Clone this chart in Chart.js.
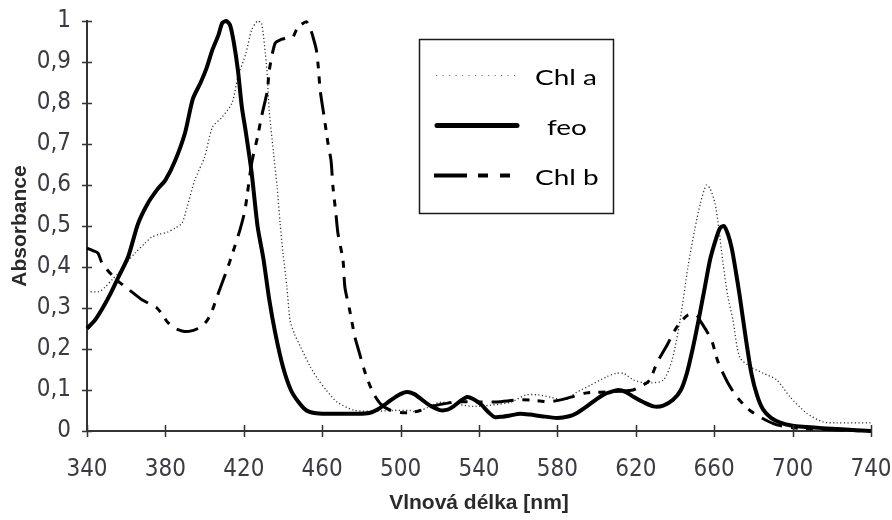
<!DOCTYPE html>
<html>
<head>
<meta charset="utf-8">
<script src="https://cdn.jsdelivr.net/npm/chart.js@4/dist/chart.umd.min.js"></script>
<style>
  html, body { margin: 0; padding: 0; background: #ffffff; }
  #wrap { width: 892px; height: 520px; }
</style>
</head>
<body>
<div id="wrap"><canvas id="spectra" width="892" height="520"></canvas></div>
<script>
// Absorption spectra of chlorophyll a, pheophytin (feo) and chlorophyll b
const xTicks = [340, 380, 420, 460, 500, 540, 580, 620, 660, 700, 740];
const yTickLabels = ['0', '0,1', '0,2', '0,3', '0,4', '0,5', '0,6', '0,7', '0,8', '0,9', '1'];

const seriesNames = ['Chl a', 'feo', 'Chl b'];

const nmChlA = [340, 346, 349, 353, 356, 360, 364.5, 369.6, 373, 377, 381, 385, 388.5, 391, 395, 400, 404, 409, 414, 417, 421, 424, 427, 429, 431, 432, 433, 435, 437, 438.5, 440, 442, 443.6, 446, 449, 454, 458, 462, 467.5, 476, 486, 496, 505, 508, 514, 520, 528, 537, 546, 556, 564, 570, 577, 583, 590, 597, 605, 610, 614, 619, 626, 634, 638.5, 642.6, 646.6, 650, 653, 656, 658, 660.4, 662, 664.5, 667, 669.6, 673, 679, 685, 692, 698.7, 707, 715.5, 722, 740];
const absChlA = [0.34, 0.34, 0.35, 0.37, 0.385, 0.41, 0.434, 0.458, 0.473, 0.48, 0.485, 0.495, 0.507, 0.545, 0.612, 0.668, 0.741, 0.766, 0.80, 0.864, 0.92, 0.978, 1.0, 0.995, 0.92, 0.864, 0.78, 0.685, 0.595, 0.507, 0.434, 0.351, 0.27, 0.235, 0.205, 0.156, 0.125, 0.1, 0.071, 0.051, 0.048, 0.05, 0.05, 0.046, 0.058, 0.07, 0.066, 0.06, 0.063, 0.07, 0.088, 0.088, 0.082, 0.076, 0.095, 0.112, 0.132, 0.141, 0.14, 0.124, 0.117, 0.124, 0.173, 0.27, 0.40, 0.49, 0.556, 0.60, 0.59, 0.556, 0.507, 0.41, 0.327, 0.27, 0.18, 0.155, 0.141, 0.124, 0.083, 0.044, 0.022, 0.02, 0.02];

const nmFeo = [340, 344, 348, 352, 356, 361, 366, 371, 376, 380, 385, 390, 394, 398, 401, 404, 407, 409, 411, 413, 415, 417, 419, 421, 424, 427, 430, 433, 436, 440, 444, 448, 452, 456, 462, 470, 478, 484, 488, 493, 498, 503, 507, 511, 515, 520, 524, 527, 531, 534, 537, 541, 545, 548, 552, 556, 561, 566, 572, 580, 586, 590, 595, 600, 604, 607, 611, 615, 619, 624, 629, 634, 639, 643, 646, 649, 652, 655, 658, 661, 663, 665, 667, 669, 671, 673, 676, 679, 682, 685, 689, 694, 700, 707, 715, 725, 740];
const absFeo = [0.25, 0.27, 0.30, 0.335, 0.375, 0.425, 0.505, 0.555, 0.59, 0.612, 0.66, 0.727, 0.81, 0.85, 0.885, 0.93, 0.965, 0.995, 1.0, 0.99, 0.945, 0.88, 0.79, 0.73, 0.63, 0.50, 0.42, 0.32, 0.24, 0.156, 0.10, 0.07, 0.05, 0.044, 0.042, 0.042, 0.042, 0.044, 0.052, 0.068, 0.085, 0.095, 0.09, 0.076, 0.062, 0.051, 0.052, 0.06, 0.075, 0.083, 0.078, 0.065, 0.045, 0.034, 0.035, 0.038, 0.042, 0.04, 0.036, 0.032, 0.036, 0.044, 0.06, 0.078, 0.09, 0.095, 0.1, 0.095, 0.083, 0.07, 0.06, 0.062, 0.076, 0.1, 0.14, 0.2, 0.27, 0.345, 0.42, 0.47, 0.495, 0.50, 0.48, 0.445, 0.39, 0.33, 0.23, 0.14, 0.085, 0.052, 0.032, 0.02, 0.013, 0.01, 0.007, 0.004, 0.0];

const nmChlB = [340, 343, 345.6, 347.6, 350, 352.8, 356, 360, 364, 368, 372, 375.7, 379, 381, 385, 388.5, 392, 396.6, 400, 402, 404, 407, 411.4, 414.5, 418, 420.6, 424, 427, 429, 432, 433, 436, 439, 442, 445, 447, 449, 452, 454, 455, 457, 458, 459, 461, 463, 464.5, 465.5, 467, 468, 470.6, 471.6, 474, 476.7, 479, 482, 486, 490, 495, 500, 505, 510, 516, 524, 530, 540, 549, 561, 570, 576, 585, 595, 605, 612, 618.6, 623, 627, 631, 636, 641, 646.6, 651, 652.7, 656, 658.8, 662, 667, 671.6, 678, 685, 692, 700, 715, 740];
const absChlB = [0.446, 0.44, 0.434, 0.41, 0.395, 0.38, 0.365, 0.35, 0.335, 0.32, 0.31, 0.30, 0.28, 0.266, 0.25, 0.244, 0.243, 0.25, 0.262, 0.275, 0.295, 0.336, 0.393, 0.437, 0.49, 0.539, 0.653, 0.717, 0.766, 0.83, 0.88, 0.946, 0.955, 0.958, 0.961, 0.98, 0.99, 0.998, 0.98, 0.966, 0.93, 0.888, 0.83, 0.766, 0.70, 0.66, 0.595, 0.53, 0.483, 0.417, 0.35, 0.295, 0.229, 0.19, 0.141, 0.093, 0.065, 0.05, 0.045, 0.045, 0.05, 0.06, 0.068, 0.071, 0.071, 0.071, 0.076, 0.074, 0.071, 0.08, 0.093, 0.095, 0.097, 0.1, 0.11, 0.124, 0.168, 0.21, 0.254, 0.283, 0.283, 0.27, 0.245, 0.22, 0.168, 0.117, 0.083, 0.051, 0.03, 0.015, 0.008, 0.004, 0.0];

const toPoints = (xs, ys) => xs.map((x, i) => ({ x: x, y: ys[i] }));

const AXIS_COLOR = '#333333';
const TICK_TEXT = '#3d3a44';
const NARROW = '"Liberation Sans Narrow", "DejaVu Sans Condensed", "Liberation Sans", Arial, sans-serif';
const SANS = '"Liberation Sans", Arial, sans-serif';

const lineStyles = {
  'Chl a': { color: '#333333', width: 1.3, dash: [1.2, 2.4] },
  'feo':   { color: '#000000', width: 4, dash: [] },
  'Chl b': { color: '#000000', width: 3, dash: [22, 9, 7, 8, 7, 9] }
};

// Tick marks that cross the axis lines on both sides
const crossTicks = {
  id: 'crossTicks',
  afterDraw(chart) {
    const { ctx, scales } = chart;
    const xs = scales.x, ys = scales.y;
    ctx.save();
    ctx.strokeStyle = AXIS_COLOR;
    ctx.lineWidth = 1.5;
    ctx.beginPath();
    xs.ticks.forEach(t => {
      const px = Math.round(xs.getPixelForValue(t.value)) + 0.5;
      ctx.moveTo(px, ys.bottom - 6);
      ctx.lineTo(px, ys.bottom + 6);
    });
    ys.ticks.forEach(t => {
      const py = Math.round(ys.getPixelForValue(t.value)) + 0.5;
      ctx.moveTo(xs.left - 5, py);
      ctx.lineTo(xs.left + 5, py);
    });
    ctx.stroke();
    ctx.restore();
  }
};

// Boxed legend placed inside the plot
const boxLegend = {
  id: 'boxLegend',
  afterDraw(chart) {
    const { ctx } = chart;
    const box = { left: 419, top: 39, right: 613, bottom: 213 };
    ctx.save();
    ctx.strokeStyle = '#1a1a1a';
    ctx.lineWidth = 1.5;
    ctx.strokeRect(box.left + 0.5, box.top + 0.5, box.right - box.left, box.bottom - box.top);
    const rows = [75, 125, 175];
    const textX = { 'Chl a': 535, 'feo': 547, 'Chl b': 535 };
    chart.data.datasets.forEach((ds, i) => {
      const y = rows[i] + 0.5;
      const name = ds.label;
      ctx.save();
      if (name === 'Chl a') {
        ctx.strokeStyle = '#777777';
        ctx.lineWidth = 1.2;
        ctx.setLineDash([1.2, 5.3]);
        ctx.beginPath(); ctx.moveTo(436, y); ctx.lineTo(518, y); ctx.stroke();
      } else if (name === 'feo') {
        ctx.strokeStyle = '#000000';
        ctx.lineWidth = 5;
        ctx.lineCap = 'round';
        ctx.beginPath(); ctx.moveTo(437, y); ctx.lineTo(517, y); ctx.stroke();
      } else {
        ctx.strokeStyle = '#000000';
        ctx.lineWidth = 4;
        ctx.beginPath();
        ctx.moveTo(434, y); ctx.lineTo(467, y);
        ctx.moveTo(478, y); ctx.lineTo(488, y);
        ctx.moveTo(500, y); ctx.lineTo(510, y);
        ctx.stroke();
      }
      ctx.restore();
      // legend captions are set slightly wide
      ctx.save();
      ctx.translate(textX[name], rows[i] + 10);
      ctx.scale(1.27, 1);
      ctx.fillStyle = '#000000';
      ctx.font = '22px Lato, "Open Sans", sans-serif';
      ctx.textAlign = 'left';
      ctx.textBaseline = 'alphabetic';
      ctx.fillText(name, 0, 0);
      ctx.restore();
    });
    ctx.restore();
  }
};

const series = [
  { name: seriesNames[0], xs: nmChlA, ys: absChlA, order: 2 },
  { name: seriesNames[1], xs: nmFeo, ys: absFeo, order: 0 },
  { name: seriesNames[2], xs: nmChlB, ys: absChlB, order: 1 }
];

new Chart(document.getElementById('spectra'), {
  type: 'line',
  data: {
    datasets: series.map(s => ({
      label: s.name,
      data: toPoints(s.xs, s.ys),
      borderColor: lineStyles[s.name].color,
      borderWidth: lineStyles[s.name].width,
      borderDash: lineStyles[s.name].dash,
      pointRadius: 0,
      tension: 0.25,
      fill: false,
      clip: 8,
      order: s.order
    }))
  },
  options: {
    responsive: false,
    animation: false,
    layout: { padding: { top: 21, right: 21, left: 0, bottom: 0 } },
    plugins: { legend: { display: false }, tooltip: { enabled: false } },
    scales: {
      x: {
        type: 'linear',
        min: 340, max: 740,
        afterFit: s => { s.height = 89; s.paddingLeft = 0; s.paddingRight = 0; },
        afterBuildTicks: s => { s.ticks = xTicks.map(v => ({ value: v })); },
        grid: { display: false, drawTicks: false },
        border: { display: true, color: AXIS_COLOR, width: 2 },
        ticks: {
          color: TICK_TEXT,
          padding: 24,
          maxRotation: 0,
          autoSkip: false,
          font: { family: NARROW, size: 24 },
          callback: v => String(v)
        },
        title: {
          display: true,
          text: 'Vlnová délka [nm]',
          color: '#2a2a2a',
          font: { family: SANS, size: 21, weight: 'bold', lineHeight: 1.2 },
          padding: { top: 0, bottom: 4 }
        }
      },
      y: {
        min: 0, max: 1,
        afterFit: s => { s.width = 87; s.paddingTop = 0; s.paddingBottom = 0; },
        afterBuildTicks: s => { s.ticks = yTickLabels.map((_, i) => ({ value: i / 10 })); },
        grid: { display: false, drawTicks: false },
        border: { display: true, color: AXIS_COLOR, width: 2 },
        ticks: {
          color: TICK_TEXT,
          padding: 16,
          autoSkip: false,
          font: { family: NARROW, size: 24 },
          callback: (v, i) => yTickLabels[i]
        },
        title: {
          display: true,
          text: 'Absorbance',
          color: '#2a2a2a',
          font: { family: SANS, size: 21, weight: 'bold', lineHeight: 1.2 },
          padding: { top: 8, bottom: 0 }
        }
      }
    }
  },
  plugins: [crossTicks, boxLegend]
});
</script>
</body>
</html>
